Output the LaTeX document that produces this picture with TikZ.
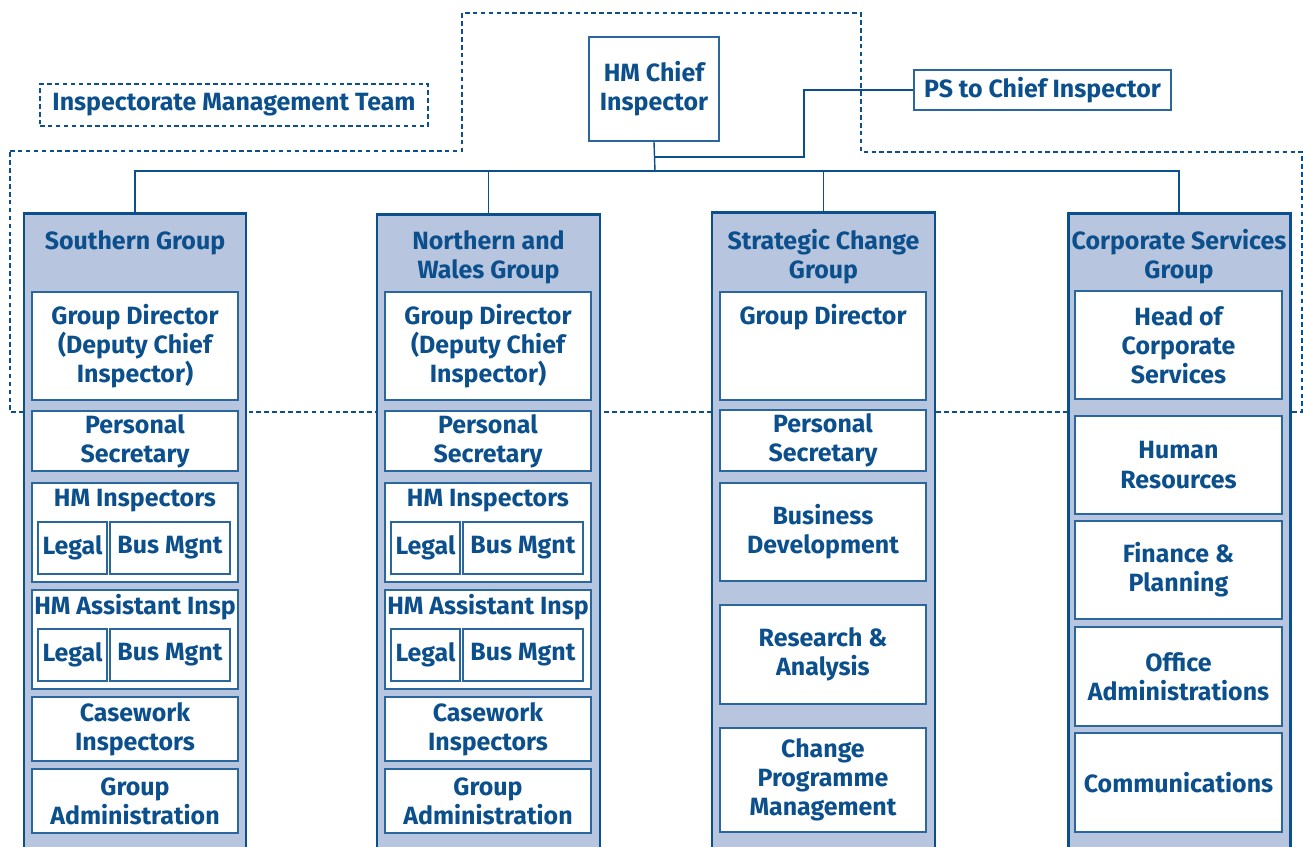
\documentclass[tikz,border=0pt]{standalone}
\usepackage{fontspec}
\setmainfont{Fira Sans}
\usepackage{xcolor}
\definecolor{hmoblue}{HTML}{0B4F8C}
\definecolor{hmoline}{HTML}{2A679F}
\definecolor{hmofill}{HTML}{B8C5DE}
\newcommand{\hmofont}{\bfseries\fontsize{14.2}{16.6}\selectfont}

\tikzset{
  grp/.style = {rectangle, draw = hmoblue, fill = hmofill, line width = 1.7pt, inner sep = 0pt},
  unit/.style = {rectangle, draw = hmoline, fill = white, line width = 0.9pt, inner sep = 0pt,
                 align = center, text = hmoblue, font = \hmofont},
  caption/.style = {inner sep = 0pt, align = center, text = hmoblue, font = \hmofont},
  link/.style = {draw = hmoblue, line width = 0.8pt},
  team/.style = {draw = hmoblue, line width = 0.6pt, dash pattern = on 2.6pt off 1.9pt}
}

% box from its corners (x1,y1) (x2,y2), in pixel units
\newcommand{\ubox}[6]{%
  \node [unit, minimum width = {(#4-#2)*0.02cm}, minimum height = {(#5-#3)*0.02cm}]
    (#1) at ({(#2+#4)/2}, {(#3+#5)/2}) {#6};}

\begin{document}
\begin{tikzpicture}[x = 0.02cm, y = -0.02cm]
  \useasboundingbox (0, 0) rectangle (1303, 847);
  \clip (0, 0) rectangle (1303, 847);

  % management team outline
  \draw[team] (10, 151) -- (462, 151) -- (462, 13) -- (861, 13) -- (861, 152)
    -- (1302, 152) -- (1302, 412) -- (10, 412) -- cycle;
  \node [team, minimum width = 388*0.02cm, minimum height = 42*0.02cm, text = hmoblue, font = \hmofont]
    (imt) at (234, 105) {Inspectorate Management Team};

  % top of the tree
  \ubox{chief}{589}{37}{719}{141}{HM Chief\\Inspector}
  \ubox{ps}{914}{70}{1171}{110}{PS to Chief Inspector}

  % the four groups
  \node [grp, minimum width = 222*0.02cm, minimum height = 700*0.02cm, anchor = north] (south) at (135, 212) {};
  \node [grp, minimum width = 223*0.02cm, minimum height = 700*0.02cm, anchor = north] (north) at (488.5, 213) {};
  \node [grp, minimum width = 223*0.02cm, minimum height = 700*0.02cm, anchor = north] (strat) at (823.5, 211) {};
  \node [grp, minimum width = 222*0.02cm, minimum height = 700*0.02cm, anchor = north] (corp) at (1179, 212) {};

  \node [caption] (southT) at (135, 242.5) {Southern Group};
  \node [caption] (northT) at (488.5, 257) {Northern and\\Wales Group};
  \node [caption] (stratT) at (823.5, 256.5) {Strategic Change\\Group};
  \node [caption] (corpT) at (1179, 256.5) {Corporate Services\\Group};

  \coordinate (bus) at (655, 171);
  \coordinate (psbend) at (804, 157);
  \draw[link] (chief.south) -- (bus);
  \draw[link] (south.north) |- (bus) -| (corp.north);
  \draw[link] (north.north) -- (north.north |- bus);
  \draw[link] (strat.north) -- (strat.north |- bus);
  \draw[link] (chief.south |- psbend) -- (psbend) |- (ps.west);

  % Southern Group
  \ubox{sGD}{32}{292}{238}{400}{Group Director\\(Deputy Chief\\Inspector)}
  \ubox{sPS}{32}{411}{238}{471}{Personal\\Secretary}
  \ubox{sHMI}{32}{483}{238}{582}{}
  \node [caption] (sHMIt) at (135, 500.5) {HM Inspectors};
  \ubox{sHMIl}{38}{522}{107}{574}{Legal}
  \ubox{sHMIb}{110}{522}{230}{574}{Bus Mgnt}
  \ubox{sHMA}{32}{590}{238}{689}{}
  \node [caption] (sHMAt) at (135, 607.5) {HM Assistant Insp};
  \ubox{sHMAl}{38}{629}{107}{681}{Legal}
  \ubox{sHMAb}{110}{629}{230}{681}{Bus Mgnt}
  \ubox{sCW}{32}{697}{238}{761}{Casework\\Inspectors}
  \ubox{sGA}{32}{769}{238}{833}{Group\\Administration}

  % Northern and Wales Group
  \ubox{nGD}{385}{292}{591}{400}{Group Director\\(Deputy Chief\\Inspector)}
  \ubox{nPS}{385}{411}{591}{471}{Personal\\Secretary}
  \ubox{nHMI}{385}{483}{591}{582}{}
  \node [caption] (nHMIt) at (488, 500.5) {HM Inspectors};
  \ubox{nHMIl}{391}{522}{460}{574}{Legal}
  \ubox{nHMIb}{463}{522}{583}{574}{Bus Mgnt}
  \ubox{nHMA}{385}{590}{591}{689}{}
  \node [caption] (nHMAt) at (488, 607.5) {HM Assistant Insp};
  \ubox{nHMAl}{391}{629}{460}{681}{Legal}
  \ubox{nHMAb}{463}{629}{583}{681}{Bus Mgnt}
  \ubox{nCW}{385}{697}{591}{761}{Casework\\Inspectors}
  \ubox{nGA}{385}{769}{591}{833}{Group\\Administration}

  % Strategic Change Group
  \ubox{cGD}{720}{292}{926}{400}{}
  \node [caption] (cGDt) at (823, 317) {Group Director};
  \ubox{cPS}{720}{410}{926}{471}{Personal\\Secretary}
  \ubox{cBD}{720}{483}{926}{581}{Business\\Development}
  \ubox{cRA}{720}{605}{926}{704}{Research \&\\Analysis}
  \ubox{cCP}{720}{728}{926}{832}{Change\\Programme\\Management}

  % Corporate Services Group
  \ubox{kHC}{1075}{291}{1282}{399}{Head of\\Corporate\\Services}
  \ubox{kHR}{1075}{416}{1282}{514}{Human\\Resources}
  \ubox{kFP}{1075}{521}{1282}{619}{Finance \&\\Planning}
  \ubox{kOA}{1075}{627}{1282}{726}{Office\\Administrations}
  \ubox{kCO}{1075}{733}{1282}{832}{Communications}
\end{tikzpicture}
\end{document}
